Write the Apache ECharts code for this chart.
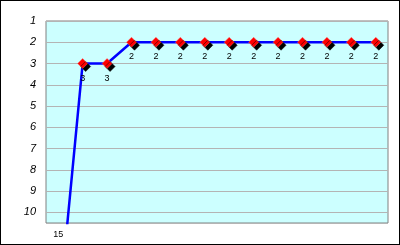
<!DOCTYPE html>
<html>
<head>
<meta charset="utf-8">
<script src="https://cdn.jsdelivr.net/npm/echarts@6/dist/echarts.min.js"></script>
<style>
html,body{margin:0;padding:0;background:#fff;}
#c{width:400px;height:245px;box-sizing:border-box;border:1px solid #000;}
</style>
</head>
<body>
<div id="c"></div>
<script>
var categories = ['1','2','3','4','5','6','7','8','9','10','11','12','13','14'];
var rankValues = [15, 3, 3, 2, 2, 2, 2, 2, 2, 2, 2, 2, 2, 2];
var yTickLabels = ['1','2','3','4','5','6','7','8','9','10'];
var yMin = 1, yMax = 10.5;

var chart = echarts.init(document.getElementById('c'), null, {renderer:'canvas'});
chart.setOption({
  animation: false,
  grid: {left: 45, top: 20, right: 11, bottom: 21, show: true, backgroundColor: '#CCFFFF', borderColor: '#808080', borderWidth: 1},
  xAxis: {
    type: 'category', data: categories, boundaryGap: true,
    axisLine: {show: false}, axisTick: {show: false}, splitLine: {show: false},
    axisLabel: {
      interval: 0, margin: 7, fontSize: 9, color: '#000', fontFamily: 'Liberation Sans, Arial, sans-serif',
      formatter: function (v, i) { return rankValues[i] > yMax ? String(rankValues[i]) : ''; }
    }
  },
  yAxis: {
    type: 'value', inverse: true, min: yMin, max: yMax, interval: 1,
    axisLine: {show: false}, axisTick: {show: false},
    splitLine: {show: true, lineStyle: {color: '#B4B4B4', width: 1}},
    axisLabel: {
      margin: 10, fontSize: 11, fontStyle: 'italic', color: '#000', fontFamily: 'Liberation Sans, Arial, sans-serif',
      showMaxLabel: false,
      formatter: function (v) { var s = String(v); return yTickLabels.indexOf(s) >= 0 ? s : ''; }
    }
  },
  series: [{
    type: 'line', data: rankValues, clip: true,
    lineStyle: {color: '#0000FF', width: 2.5},
    symbol: 'diamond', symbolSize: 10,
    itemStyle: {color: '#FF0000', borderColor: '#FF6666', borderWidth: 0.5, shadowColor: '#000', shadowOffsetX: 3, shadowOffsetY: 3, shadowBlur: 0},
    label: {show: true, position: 'bottom', distance: 5, fontSize: 9, color: '#000', fontFamily: 'Liberation Sans, Arial, sans-serif'}
  }]
});
</script>
</body>
</html>
